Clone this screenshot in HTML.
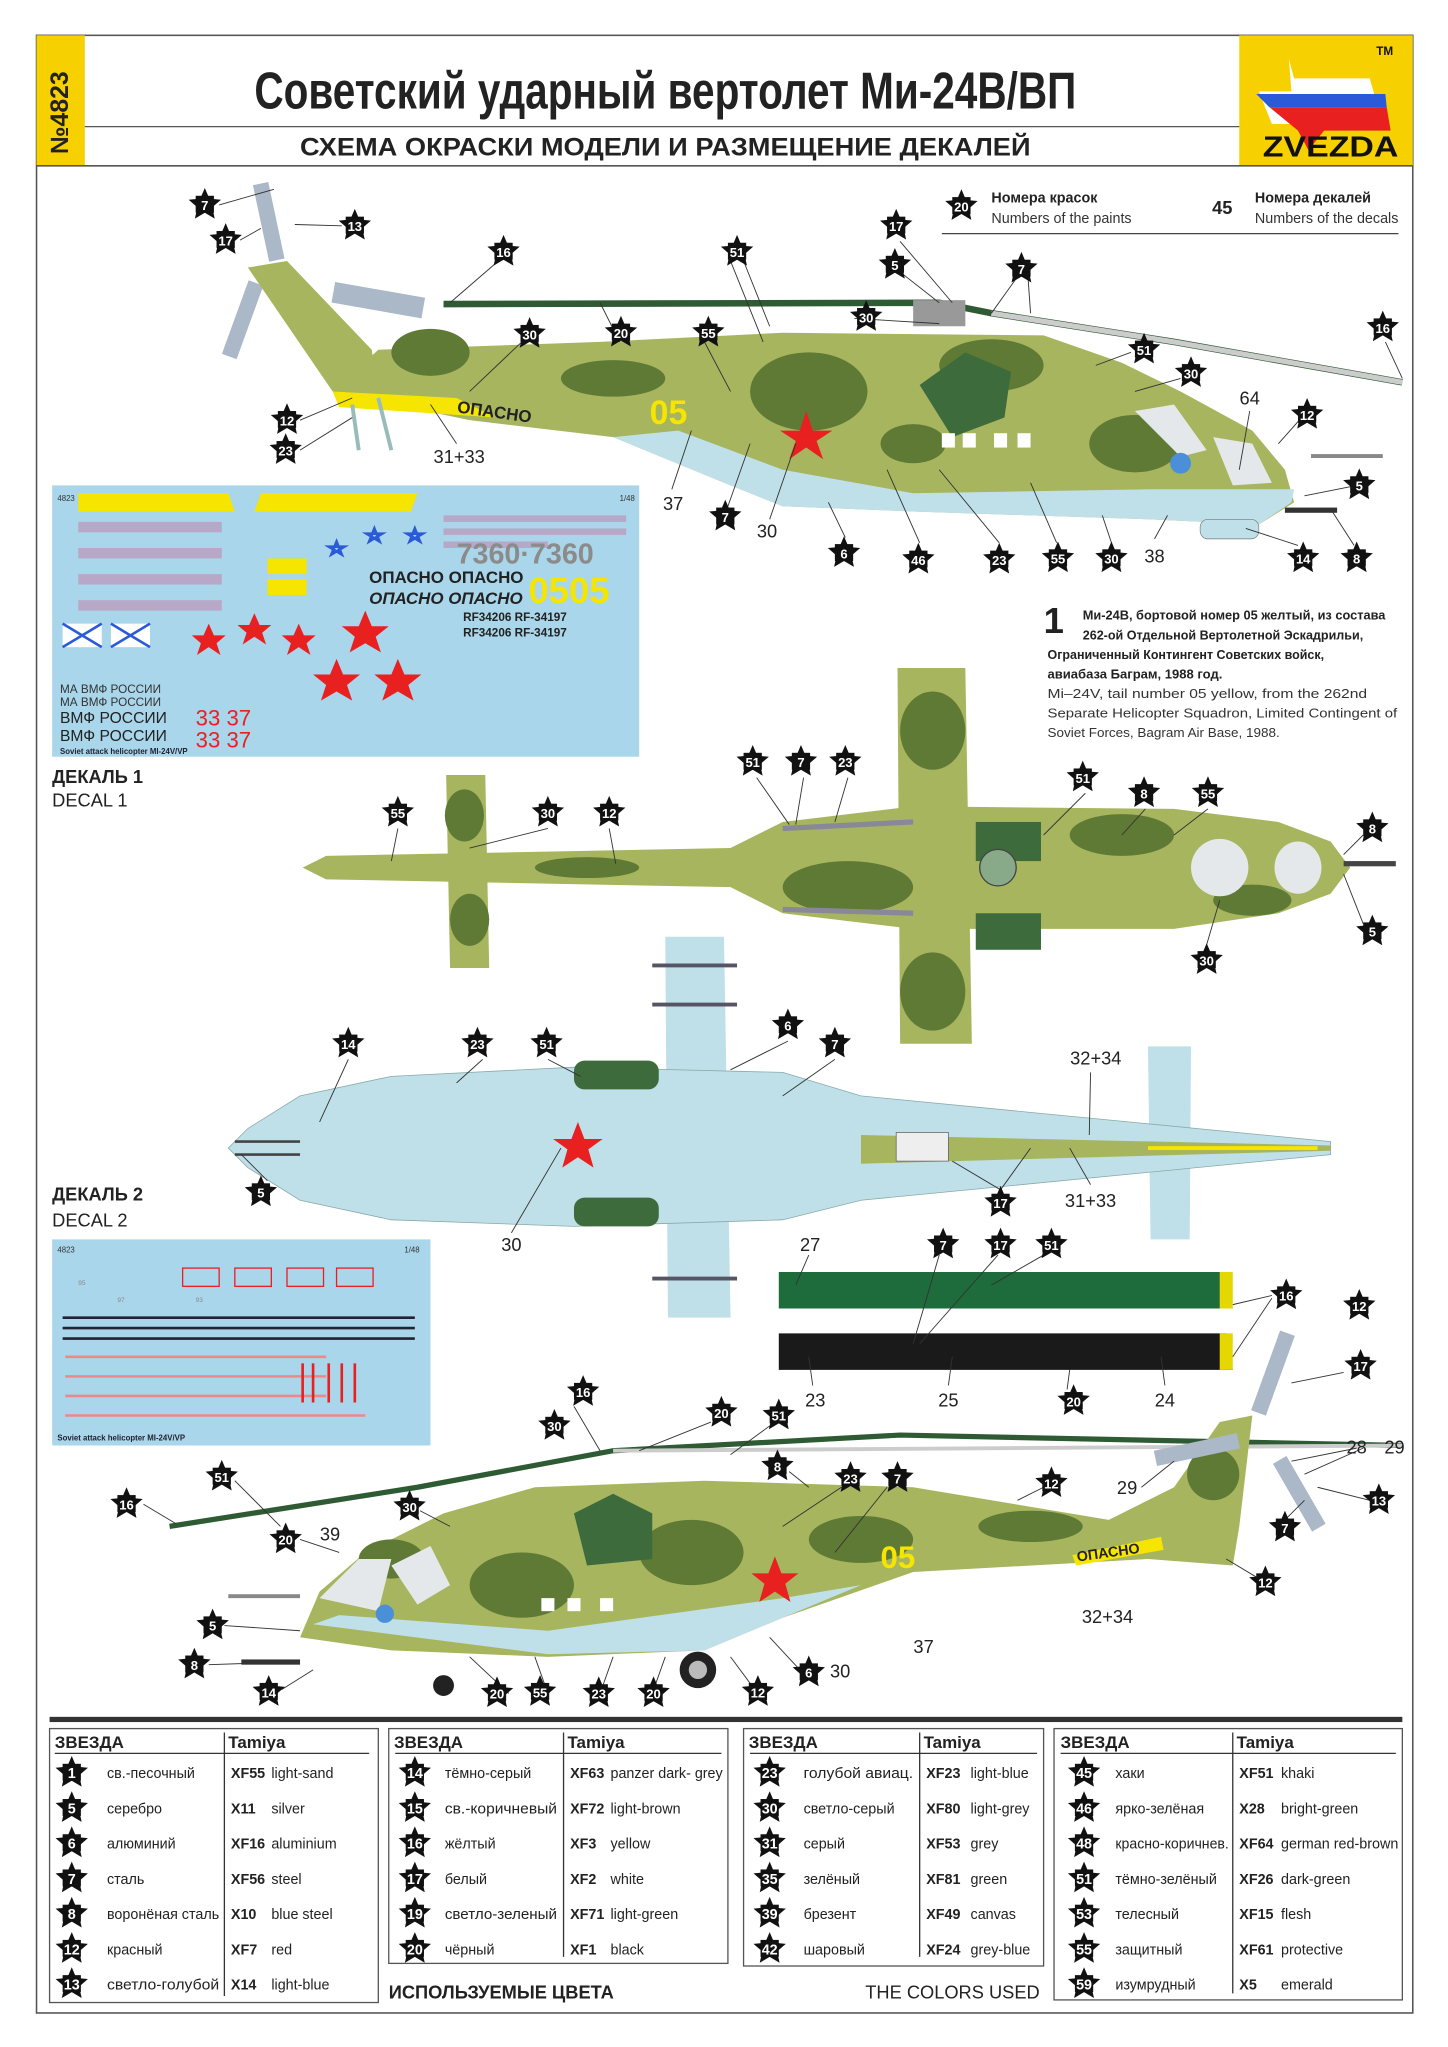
<!DOCTYPE html>
<html><head><meta charset="utf-8"><style>
html,body{margin:0;padding:0;background:#fff;}
svg{display:block;}
text{font-family:"Liberation Sans","Noto Sans CJK SC",sans-serif;}
.n{font-size:10px;fill:#fff;font-weight:bold;text-anchor:middle;}
.lbl{font-size:14px;fill:#222;text-anchor:middle;}
.tb text{font-size:11px;}
</style></head><body>
<svg width="1448" height="2047" viewBox="0 0 1110 1569" xmlns="http://www.w3.org/2000/svg">
<defs>
<g id="st"><polygon points="0,-13 3.5,-4.8 12.4,-4 5.7,1.8 7.6,10.5 0,6 -7.6,10.5 -5.7,1.8 -12.4,-4 -3.5,-4.8" fill="#111"/><rect x="-7" y="-7" width="14" height="13" fill="#111"/></g>
</defs>
<rect x="0" y="0" width="1110" height="1569" fill="#fff"/>
<rect x="28" y="27" width="1055" height="1516" fill="none" stroke="#555" stroke-width="1.2"/>
<rect x="28" y="27" width="37" height="100" fill="#f7d000"/>
<text transform="translate(52,118) rotate(-90)" font-size="19" font-weight="bold" fill="#222">№4823</text>
<rect x="950" y="27" width="133" height="100" fill="#f7d000"/>
<polygon points="988,45 992,60 1050,60 1060,95 1015,95 1005,110 998,95 975,95 965,70 990,70" fill="#fff"/>
<polygon points="963,72 1062,72 1063,82 973,82" fill="#2a5ad8"/>
<polygon points="973,82 1063,82 1066,100 1015,100 1003,115 995,100" fill="#e82020"/>
<text x="1020" y="120" font-size="22" text-anchor="middle" font-weight="bold" fill="#111" textLength="104" lengthAdjust="spacingAndGlyphs">ZVEZDA</text>
<text x="1055" y="42" font-size="9" font-weight="bold" fill="#111">TM</text>
<line x1="65" y1="97" x2="950" y2="97" stroke="#555" stroke-width="1"/>
<line x1="28" y1="127" x2="1083" y2="127" stroke="#555" stroke-width="1.2"/>
<text x="510" y="83" font-size="40" font-weight="bold" text-anchor="middle" fill="#222" textLength="630" lengthAdjust="spacingAndGlyphs">Советский ударный вертолет Ми-24В/ВП</text>
<text x="510" y="119" font-size="19" font-weight="bold" text-anchor="middle" fill="#222" textLength="560" lengthAdjust="spacingAndGlyphs">СХЕМА ОКРАСКИ МОДЕЛИ И РАЗМЕЩЕНИЕ ДЕКАЛЕЙ</text>
<use href="#st" x="737" y="158"/><text class="n" x="737" y="162">20</text>
<text x="760" y="155" font-size="11" font-weight="bold" fill="#222">Номера красок</text>
<text x="760" y="171" font-size="11" fill="#333">Numbers of the paints</text>
<text x="937" y="164" font-size="14" font-weight="bold" fill="#222" text-anchor="middle">45</text>
<text x="962" y="155" font-size="11" font-weight="bold" fill="#222">Номера декалей</text>
<text x="962" y="171" font-size="11" fill="#333" textLength="110" lengthAdjust="spacingAndGlyphs">Numbers of the decals</text>
<line x1="722" y1="179" x2="1072" y2="179" stroke="#444"/>

<!-- HELI 1 side -->
<g>
<path d="M340,233 L720,232 L760,240 L900,262 L1075,293" fill="none" stroke="#2e5b33" stroke-width="5"/>
<path d="M760,240 L900,262 L1075,293" fill="none" stroke="#ccc" stroke-width="4"/>
<rect x="700" y="230" width="40" height="20" fill="#999"/>
<rect x="200" y="140" width="12" height="60" fill="#aab8c8" transform="rotate(-12 206 170)"/>
<rect x="180" y="215" width="12" height="60" fill="#aab8c8" transform="rotate(20 186 245)"/>
<rect x="255" y="222" width="70" height="16" fill="#aab8c8" transform="rotate(10 290 230)"/>
<path d="M190,205 L220,200 L285,268 L290,305 L255,300 Z" fill="#a7b55f"/>
<path d="M255,300 L290,268 L460,262 L600,255 L800,257 L860,278 L905,300 L960,330 L985,360 L992,385 L965,402 L880,398 L700,392 L600,388 L560,372 L470,335 L360,322 Z" fill="#a7b55f"/>
<path d="M470,335 L560,372 L600,388 L700,392 L880,398 L965,402 L990,385 L992,375 L880,375 L700,378 L600,360 L520,330 Z" fill="#bfe0e8"/>
<ellipse cx="330" cy="270" rx="30" ry="18" fill="#5f7a35"/>
<ellipse cx="470" cy="290" rx="40" ry="14" fill="#5f7a35"/>
<ellipse cx="620" cy="300" rx="45" ry="30" fill="#5f7a35"/>
<ellipse cx="760" cy="280" rx="40" ry="20" fill="#5f7a35"/>
<ellipse cx="870" cy="340" rx="35" ry="22" fill="#5f7a35"/>
<ellipse cx="700" cy="340" rx="25" ry="15" fill="#5f7a35"/>
<path d="M705,295 L740,270 L775,285 L770,320 L730,335 Z" fill="#3e6b3c"/>
<path d="M870,315 L900,310 L925,345 L905,350 Z" fill="#e4e8ea"/>
<path d="M930,335 L960,340 L975,370 L945,372 Z" fill="#e4e8ea"/>
<path d="M255,300 L350,305 L380,320 L260,312 Z" fill="#f5e500"/>
<text x="350" y="316" font-size="13" font-weight="bold" fill="#222" transform="rotate(8 350 316)">ОПАСНО</text>
<text x="498" y="325" font-size="26" font-weight="bold" fill="#f5e500">05</text>
<polygon points="618,315 623,330 638,330 626,338 631,352 618,343 605,352 610,338 598,330 613,330" fill="#e82020"/>
<rect x="722" y="332" width="10" height="11" fill="#fff"/><rect x="738" y="332" width="10" height="11" fill="#fff"/><rect x="762" y="332" width="10" height="11" fill="#fff"/><rect x="780" y="332" width="10" height="11" fill="#fff"/>
<path d="M270,310 L275,345 M290,305 L300,345" stroke="#9bb" stroke-width="3"/>
<rect x="1005" y="348" width="55" height="3" fill="#888"/>
<rect x="920" y="398" width="45" height="15" rx="6" fill="#bfe0e8" stroke="#777" stroke-width=".5"/>
<rect x="985" y="389" width="40" height="4" fill="#333"/>
<circle cx="905" cy="355" r="8" fill="#4a8fd8"/>
</g>
<g stroke="#333" stroke-width="0.7" fill="none">
<path d="M168,157 L210,145 M184,184 L200,175 M262,173 L226,172 M382,200 L345,232 M560,200 L585,262 M570,200 L590,250 M690,185 L730,232 M692,210 L720,232 M780,212 L760,240 M788,212 L790,240 M475,262 L460,232 M400,262 L360,300 M540,262 L560,300 M655,244 L720,248 M867,270 L840,280 M905,290 L870,300 M1062,262 L1075,290 M996,322 L980,340 M230,322 L270,305 M230,345 L270,320 M350,340 L330,310 M515,375 L530,330 M558,388 L575,340 M590,398 L610,340 M648,412 L635,385 M705,416 L680,360 M766,416 L720,360 M810,416 L790,370 M852,416 L845,395 M885,413 L895,395 M1040,372 L1000,380 M995,418 L955,405 M1038,418 L1020,390 M958,315 L950,360"/>
</g>

<!-- decal sheet 1 -->
<rect x="40" y="372" width="450" height="208" fill="#a9d6ea"/>
<polygon points="60,378 175,378 180,392 60,392" fill="#f5e500"/>
<polygon points="200,378 320,378 315,392 195,392" fill="#f5e500"/>
<text x="44" y="384" font-size="6" fill="#333">4823</text><text x="475" y="384" font-size="6" fill="#333">1/48</text>
<g fill="#b8a8c8">
<rect x="60" y="400" width="110" height="8"/><rect x="60" y="420" width="110" height="8"/><rect x="60" y="440" width="110" height="8"/><rect x="60" y="460" width="110" height="8"/>
<rect x="340" y="395" width="140" height="5"/><rect x="340" y="405" width="140" height="5"/><rect x="340" y="415" width="80" height="5"/>
</g>
<text x="350" y="432" font-size="22" font-weight="bold" fill="#8b8b8b">7360·7360</text>
<text x="405" y="462" font-size="28" font-weight="bold" fill="#f5e500">0505</text>
<text x="283" y="447" font-size="13" font-weight="bold" fill="#222">ОПАСНО ОПАСНО</text>
<text x="283" y="463" font-size="13" font-style="italic" font-weight="bold" fill="#222">ОПАСНО ОПАСНО</text>
<text x="355" y="476" font-size="9" font-weight="bold" fill="#222">RF34206   RF-34197</text>
<text x="355" y="488" font-size="9" font-weight="bold" fill="#222">RF34206   RF-34197</text>
<rect x="205" y="428" width="30" height="12" fill="#f5e500"/><rect x="205" y="444" width="30" height="12" fill="#f5e500"/>
<g fill="#e82020">
<polygon points="160,478 164,487 173,487 166,493 169,502 160,496 151,502 154,493 147,487 156,487"/>
<polygon points="195,470 199,479 208,479 201,485 204,494 195,488 186,494 189,485 182,479 191,479"/>
<polygon points="229,478 233,487 242,487 235,493 238,502 229,496 220,502 223,493 216,487 225,487"/>
<polygon points="280,468 285,480 298,480 288,488 292,500 280,493 268,500 272,488 262,480 275,480"/>
<polygon points="258,505 263,517 276,517 266,525 270,537 258,530 246,537 250,525 240,517 253,517"/>
<polygon points="305,505 310,517 323,517 313,525 317,537 305,530 293,537 297,525 287,517 300,517"/>
</g>
<g fill="none" stroke="#2a5ad8" stroke-width="2"><path d="M258,415 l4,10 l-10,-6 h12 l-10,6z"/><path d="M287,405 l4,10 l-10,-6 h12 l-10,6z"/><path d="M318,405 l4,10 l-10,-6 h12 l-10,6z"/></g>
<rect x="48" y="478" width="30" height="18" fill="#fff"/><rect x="85" y="478" width="30" height="18" fill="#fff"/>
<path d="M48,478 L78,496 M78,478 L48,496 M85,478 L115,496 M115,478 L85,496" stroke="#2a5ad8" stroke-width="2"/>
<text x="46" y="531" font-size="9" fill="#333">МА ВМФ РОССИИ</text>
<text x="46" y="541" font-size="9" fill="#333">МА ВМФ РОССИИ</text>
<text x="46" y="554" font-size="12" fill="#222">ВМФ РОССИИ</text>
<text x="46" y="568" font-size="12" fill="#222">ВМФ РОССИИ</text>
<text x="150" y="556" font-size="17" fill="#e82020">33 37</text>
<text x="150" y="573" font-size="17" fill="#e82020">33 37</text>
<text x="46" y="578" font-size="6" font-weight="bold" fill="#223">Soviet attack helicopter MI-24V/VP</text>
<text x="40" y="600" font-size="14" font-weight="bold" fill="#222">ДЕКАЛЬ 1</text>
<text x="40" y="618" font-size="14" fill="#222">DECAL 1</text>

<!-- caption -->
<text x="800" y="485" font-size="28" font-weight="bold" fill="#222">1</text>
<text x="830" y="475" font-size="10" font-weight="bold" fill="#222" textLength="232" lengthAdjust="spacingAndGlyphs">Ми-24В, бортовой номер 05 желтый, из состава</text>
<text x="830" y="490" font-size="10" font-weight="bold" fill="#222" textLength="215" lengthAdjust="spacingAndGlyphs">262-ой Отдельной Вертолетной Эскадрильи,</text>
<text x="803" y="505" font-size="10" font-weight="bold" fill="#222" textLength="212" lengthAdjust="spacingAndGlyphs">Ограниченный Контингент Советских войск,</text>
<text x="803" y="520" font-size="10" font-weight="bold" fill="#222">авиабаза Баграм, 1988 год.</text>
<text x="803" y="535" font-size="10" fill="#333" textLength="245" lengthAdjust="spacingAndGlyphs">Mi–24V, tail number 05 yellow, from the 262nd</text>
<text x="803" y="550" font-size="10" fill="#333" textLength="268" lengthAdjust="spacingAndGlyphs">Separate Helicopter Squadron, Limited Contingent of</text>
<text x="803" y="565" font-size="10" fill="#333" textLength="178" lengthAdjust="spacingAndGlyphs">Soviet Forces, Bagram Air Base, 1988.</text>

<!-- top view -->
<g>
<path d="M688,512 L740,512 L745,800 L690,800 Z" fill="#a7b55f"/>
<path d="M342,594 L372,594 L375,742 L345,742 Z" fill="#a7b55f"/>
<path d="M232,665 L250,656 L560,650 L600,630 L700,618 L900,620 L980,630 L1020,645 L1035,665 L1020,685 L980,700 L900,712 L700,712 L600,700 L560,680 L250,674 Z" fill="#a7b55f"/>
<ellipse cx="356" cy="625" rx="15" ry="20" fill="#5f7a35"/><ellipse cx="360" cy="705" rx="15" ry="20" fill="#5f7a35"/>
<ellipse cx="450" cy="665" rx="40" ry="8" fill="#5f7a35"/>
<ellipse cx="715" cy="560" rx="25" ry="30" fill="#5f7a35"/><ellipse cx="715" cy="760" rx="25" ry="30" fill="#5f7a35"/>
<ellipse cx="650" cy="680" rx="50" ry="20" fill="#5f7a35"/>
<ellipse cx="860" cy="640" rx="40" ry="16" fill="#5f7a35"/>
<ellipse cx="960" cy="690" rx="30" ry="12" fill="#5f7a35"/>
<rect x="748" y="630" width="50" height="30" fill="#3e6b3c"/><rect x="748" y="700" width="50" height="28" fill="#3e6b3c"/>
<circle cx="765" cy="665" r="14" fill="#8a8" stroke="#444"/>
<ellipse cx="935" cy="665" rx="22" ry="22" fill="#e4e8ea"/><ellipse cx="995" cy="665" rx="18" ry="20" fill="#e4e8ea"/>
<rect x="1030" y="660" width="40" height="4" fill="#444"/>
<line x1="600" y1="635" x2="700" y2="630" stroke="#889" stroke-width="4"/><line x1="600" y1="697" x2="700" y2="700" stroke="#889" stroke-width="4"/>
</g>
<g stroke="#333" stroke-width=".7" fill="none"><path d="M580,596 L605,632 M616,596 L610,632 M650,596 L640,630 M832,608 L800,640 M878,620 L860,640 M926,620 L900,640 M1045,640 L1030,655 M1045,708 L1030,670 M925,724 L935,690 M305,635 L300,660 M420,635 L360,650 M467,635 L472,662"/></g>
<!-- bottom view -->
<g>
<path d="M510,718 L555,718 L560,1010 L512,1010 Z" fill="#bfe0e8"/>
<path d="M880,802 L913,802 L912,950 L882,950 Z" fill="#bfe0e8"/>
<path d="M175,880 L190,865 L230,840 L300,825 L440,818 L600,822 L660,840 L1020,875 L1020,885 L660,920 L600,935 L440,940 L300,935 L230,920 L190,895 Z" fill="#bfe0e8" stroke="#8aa" stroke-width=".6"/>
<rect x="440" y="813" width="65" height="22" rx="8" fill="#3e6b3c"/><rect x="440" y="918" width="65" height="22" rx="8" fill="#3e6b3c"/>
<path d="M660,870 L1020,878 L1020,882 L660,892 Z" fill="#a7b55f"/>
<path d="M880,880 L1010,880" stroke="#f5e500" stroke-width="3"/>
<polygon points="443,860 448,873 462,873 451,881 455,895 443,887 431,895 435,881 424,873 438,873" fill="#e82020"/>
<rect x="687" y="868" width="40" height="22" fill="#eee" stroke="#666" stroke-width=".6"/>
<path d="M180,875 L230,875 M180,885 L230,885" stroke="#444" stroke-width="2"/>
<g stroke="#556" stroke-width="3"><line x1="500" y1="740" x2="565" y2="740"/><line x1="500" y1="770" x2="565" y2="770"/><line x1="500" y1="980" x2="565" y2="980"/></g>
</g>
<g stroke="#333" stroke-width=".7" fill="none"><path d="M267,812 L245,860 M370,812 L350,830 M420,812 L445,825 M604,798 L560,820 M640,812 L600,840 M205,905 L185,885 M767,912 L730,890 M767,912 L790,880 M836,822 L835,870 M836,908 L820,880 M392,945 L430,880"/></g>
<text x="40" y="920" font-size="14" font-weight="bold" fill="#222">ДЕКАЛЬ 2</text>
<text x="40" y="940" font-size="14" fill="#222">DECAL 2</text>
<!-- decal sheet 2 -->
<rect x="40" y="950" width="290" height="158" fill="#a9d6ea"/>
<text x="44" y="960" font-size="6" fill="#333">4823</text><text x="310" y="960" font-size="6" fill="#333">1/48</text>
<g fill="none" stroke="#e82020" stroke-width="1"><rect x="140" y="972" width="28" height="14"/><rect x="180" y="972" width="28" height="14"/><rect x="220" y="972" width="28" height="14"/><rect x="258" y="972" width="28" height="14"/></g>
<g fill="#888" font-size="5"><text x="60" y="985">95</text><text x="90" y="998">97</text><text x="150" y="998">93</text></g>
<g stroke="#223" stroke-width="2"><path d="M48,1010 h270 M48,1018 h270 M48,1026 h270"/></g>
<g stroke="#e88" stroke-width="2"><path d="M50,1040 h200 M50,1055 h200 M50,1070 h200 M50,1085 h230"/></g>
<g stroke="#e82020" stroke-width="2"><path d="M232,1045 v30 M240,1045 v30 M252,1045 v30 M262,1045 v30 M272,1045 v30"/></g>
<text x="44" y="1104" font-size="6" font-weight="bold" fill="#223">Soviet attack helicopter MI-24V/VP</text>
<!-- blades -->
<path d="M597,975 L940,975 L945,1003 L597,1003 Z" fill="#1e6b3c"/>
<path d="M935,975 L945,975 L945,1003 L935,1003 Z" fill="#e5d800"/>
<path d="M597,1022 L940,1022 L945,1050 L597,1050 Z" fill="#1a1a1a"/>
<path d="M935,1022 L945,1022 L945,1050 L935,1050 Z" fill="#e5d800"/>
<g stroke="#333" stroke-width=".7" fill="none"><path d="M720,962 L700,1030 M765,962 L705,1030 M800,962 L760,985 M975,993 L945,1000 M975,995 L945,1040 M620,962 L610,985 M623,1062 L620,1040 M727,1062 L730,1040 M818,1065 L820,1050 M893,1062 L890,1040"/></g>

<!-- HELI 2 side -->
<g>
<path d="M130,1170 L320,1140 L470,1112 L690,1100 L1075,1108" fill="none" stroke="#2e5b33" stroke-width="4"/>
<path d="M470,1112 L1075,1108" stroke="#ccc" stroke-width="3"/>
<path d="M230,1255 L245,1220 L280,1190 L340,1160 L410,1140 L540,1135 L700,1140 L850,1165 L900,1140 L935,1090 L960,1085 L950,1170 L945,1200 L880,1195 L700,1205 L600,1240 L540,1265 L420,1270 L300,1265 Z" fill="#a7b55f"/>
<path d="M240,1245 L420,1268 L540,1265 L600,1240 L660,1215 L600,1225 L420,1250 L260,1238 Z" fill="#bfe0e8"/>
<ellipse cx="300" cy="1195" rx="25" ry="15" fill="#5f7a35"/><ellipse cx="400" cy="1215" rx="40" ry="25" fill="#5f7a35"/>
<ellipse cx="530" cy="1190" rx="40" ry="25" fill="#5f7a35"/><ellipse cx="660" cy="1180" rx="40" ry="18" fill="#5f7a35"/>
<ellipse cx="790" cy="1170" rx="40" ry="12" fill="#5f7a35"/><ellipse cx="930" cy="1130" rx="20" ry="20" fill="#5f7a35"/>
<path d="M440,1160 L470,1145 L500,1160 L500,1195 L450,1200 Z" fill="#3e6b3c"/>
<path d="M245,1225 L275,1195 L300,1195 L290,1235 Z" fill="#e4e8ea"/>
<path d="M300,1200 L330,1185 L345,1215 L320,1230 Z" fill="#e4e8ea"/>
<text x="675" y="1202" font-size="24" font-weight="bold" fill="#f5e500">05</text>
<polygon points="594,1193 599,1206 612,1206 602,1214 606,1228 594,1220 582,1228 586,1214 576,1206 589,1206" fill="#e82020"/>
<path d="M822,1192 L890,1178 L892,1188 L825,1200 Z" fill="#f5e500"/>
<text x="826" y="1197" font-size="11" font-weight="bold" fill="#222" transform="rotate(-8 826 1197)">ОПАСНО</text>
<rect x="175" y="1222" width="55" height="3" fill="#888"/>
<rect x="185" y="1272" width="45" height="4" fill="#333"/>
<circle cx="535" cy="1280" r="14" fill="#222"/><circle cx="535" cy="1280" r="7" fill="#bbb"/>
<circle cx="340" cy="1292" r="8" fill="#222"/>
<rect x="970" y="1020" width="12" height="65" fill="#aab8c8" transform="rotate(20 976 1052)"/>
<rect x="885" y="1105" width="65" height="12" fill="#aab8c8" transform="rotate(-12 918 1111)"/>
<rect x="990" y="1115" width="12" height="60" fill="#aab8c8" transform="rotate(-30 996 1145)"/>
<rect x="415" y="1225" width="10" height="10" fill="#fff"/><rect x="435" y="1225" width="10" height="10" fill="#fff"/><rect x="460" y="1225" width="10" height="10" fill="#fff"/>
<circle cx="295" cy="1237" r="7" fill="#4a8fd8"/>
</g>
<g stroke="#333" stroke-width=".7" fill="none"><path d="M110,1153 L135,1168 M180,1135 L215,1170 M230,1180 L260,1190 M322,1158 L345,1170 M440,1078 L460,1112 M545,1090 L490,1112 M590,1093 L560,1115 M605,1128 L620,1140 M645,1140 L600,1170 M680,1140 L640,1190 M800,1140 L780,1150 M1030,1052 L990,1060 M1040,1110 L990,1120 M1045,1110 L1000,1130 M875,1140 L900,1120 M1050,1150 L1010,1140 M980,1170 L1000,1150 M965,1210 L940,1195 M172,1246 L230,1250 M160,1276 L190,1275 M216,1295 L240,1280 M390,1298 L360,1270 M420,1298 L410,1270 M460,1298 L470,1270 M500,1298 L510,1270 M580,1297 L560,1270 M615,1282 L590,1255"/></g>

<!-- star callouts -->
<g>
<use href="#st" x="157" y="157"/><text class="n" x="157" y="161">7</text>
<use href="#st" x="173" y="184"/><text class="n" x="173" y="188">17</text>
<use href="#st" x="272" y="173"/><text class="n" x="272" y="177">13</text>
<use href="#st" x="386" y="193"/><text class="n" x="386" y="197">16</text>
<use href="#st" x="565" y="193"/><text class="n" x="565" y="197">51</text>
<use href="#st" x="687" y="173"/><text class="n" x="687" y="177">17</text>
<use href="#st" x="686" y="203"/><text class="n" x="686" y="207">5</text>
<use href="#st" x="783" y="206"/><text class="n" x="783" y="210">7</text>
<use href="#st" x="476" y="255"/><text class="n" x="476" y="259">20</text>
<use href="#st" x="406" y="256"/><text class="n" x="406" y="260">30</text>
<use href="#st" x="543" y="255"/><text class="n" x="543" y="259">55</text>
<use href="#st" x="664" y="243"/><text class="n" x="664" y="247">30</text>
<use href="#st" x="877" y="268"/><text class="n" x="877" y="272">51</text>
<use href="#st" x="913" y="286"/><text class="n" x="913" y="290">30</text>
<use href="#st" x="1060" y="251"/><text class="n" x="1060" y="255">16</text>
<use href="#st" x="1002" y="318"/><text class="n" x="1002" y="322">12</text>
<use href="#st" x="220" y="322"/><text class="n" x="220" y="326">12</text>
<use href="#st" x="219" y="345"/><text class="n" x="219" y="349">23</text>
<use href="#st" x="556" y="396"/><text class="n" x="556" y="400">7</text>
<use href="#st" x="647" y="424"/><text class="n" x="647" y="428">6</text>
<use href="#st" x="704" y="429"/><text class="n" x="704" y="433">46</text>
<use href="#st" x="766" y="429"/><text class="n" x="766" y="433">23</text>
<use href="#st" x="811" y="428"/><text class="n" x="811" y="432">55</text>
<use href="#st" x="852" y="428"/><text class="n" x="852" y="432">30</text>
<use href="#st" x="1042" y="372"/><text class="n" x="1042" y="376">5</text>
<use href="#st" x="999" y="428"/><text class="n" x="999" y="432">14</text>
<use href="#st" x="1040" y="428"/><text class="n" x="1040" y="432">8</text>
<use href="#st" x="577" y="584"/><text class="n" x="577" y="588">51</text>
<use href="#st" x="614" y="584"/><text class="n" x="614" y="588">7</text>
<use href="#st" x="648" y="584"/><text class="n" x="648" y="588">23</text>
<use href="#st" x="830" y="596"/><text class="n" x="830" y="600">51</text>
<use href="#st" x="877" y="608"/><text class="n" x="877" y="612">8</text>
<use href="#st" x="926" y="608"/><text class="n" x="926" y="612">55</text>
<use href="#st" x="1052" y="635"/><text class="n" x="1052" y="639">8</text>
<use href="#st" x="1052" y="714"/><text class="n" x="1052" y="718">5</text>
<use href="#st" x="925" y="736"/><text class="n" x="925" y="740">30</text>
<use href="#st" x="305" y="623"/><text class="n" x="305" y="627">55</text>
<use href="#st" x="420" y="623"/><text class="n" x="420" y="627">30</text>
<use href="#st" x="467" y="623"/><text class="n" x="467" y="627">12</text>
<use href="#st" x="267" y="800"/><text class="n" x="267" y="804">14</text>
<use href="#st" x="366" y="800"/><text class="n" x="366" y="804">23</text>
<use href="#st" x="419" y="800"/><text class="n" x="419" y="804">51</text>
<use href="#st" x="604" y="786"/><text class="n" x="604" y="790">6</text>
<use href="#st" x="640" y="800"/><text class="n" x="640" y="804">7</text>
<use href="#st" x="200" y="914"/><text class="n" x="200" y="918">5</text>
<use href="#st" x="767" y="922"/><text class="n" x="767" y="926">17</text>
<use href="#st" x="723" y="954"/><text class="n" x="723" y="958">7</text>
<use href="#st" x="767" y="954"/><text class="n" x="767" y="958">17</text>
<use href="#st" x="806" y="954"/><text class="n" x="806" y="958">51</text>
<use href="#st" x="986" y="993"/><text class="n" x="986" y="997">16</text>
<use href="#st" x="1042" y="1001"/><text class="n" x="1042" y="1005">12</text>
<use href="#st" x="1043" y="1047"/><text class="n" x="1043" y="1051">17</text>
<use href="#st" x="823" y="1074"/><text class="n" x="823" y="1078">20</text>
<use href="#st" x="447" y="1067"/><text class="n" x="447" y="1071">16</text>
<use href="#st" x="425" y="1093"/><text class="n" x="425" y="1097">30</text>
<use href="#st" x="553" y="1083"/><text class="n" x="553" y="1087">20</text>
<use href="#st" x="597" y="1085"/><text class="n" x="597" y="1089">51</text>
<use href="#st" x="596" y="1124"/><text class="n" x="596" y="1128">8</text>
<use href="#st" x="652" y="1133"/><text class="n" x="652" y="1137">23</text>
<use href="#st" x="688" y="1133"/><text class="n" x="688" y="1137">7</text>
<use href="#st" x="806" y="1137"/><text class="n" x="806" y="1141">12</text>
<use href="#st" x="170" y="1132"/><text class="n" x="170" y="1136">51</text>
<use href="#st" x="97" y="1153"/><text class="n" x="97" y="1157">16</text>
<use href="#st" x="219" y="1180"/><text class="n" x="219" y="1184">20</text>
<use href="#st" x="314" y="1155"/><text class="n" x="314" y="1159">30</text>
<use href="#st" x="1057" y="1150"/><text class="n" x="1057" y="1154">13</text>
<use href="#st" x="985" y="1171"/><text class="n" x="985" y="1175">7</text>
<use href="#st" x="970" y="1213"/><text class="n" x="970" y="1217">12</text>
<use href="#st" x="163" y="1246"/><text class="n" x="163" y="1250">5</text>
<use href="#st" x="149" y="1276"/><text class="n" x="149" y="1280">8</text>
<use href="#st" x="206" y="1297"/><text class="n" x="206" y="1301">14</text>
<use href="#st" x="381" y="1298"/><text class="n" x="381" y="1302">20</text>
<use href="#st" x="414" y="1297"/><text class="n" x="414" y="1301">55</text>
<use href="#st" x="459" y="1298"/><text class="n" x="459" y="1302">23</text>
<use href="#st" x="501" y="1298"/><text class="n" x="501" y="1302">20</text>
<use href="#st" x="581" y="1297"/><text class="n" x="581" y="1301">12</text>
<use href="#st" x="620" y="1282"/><text class="n" x="620" y="1286">6</text>
</g>
<g>
<text class="lbl" x="352" y="355">31+33</text><text class="lbl" x="516" y="391">37</text><text class="lbl" x="588" y="412">30</text>
<text class="lbl" x="885" y="431">38</text><text class="lbl" x="958" y="310">64</text>
<text class="lbl" x="840" y="816">32+34</text><text class="lbl" x="836" y="925">31+33</text><text class="lbl" x="392" y="959">30</text>
<text class="lbl" x="621" y="959">27</text><text class="lbl" x="625" y="1078">23</text><text class="lbl" x="727" y="1078">25</text><text class="lbl" x="893" y="1078">24</text>
<text class="lbl" x="253" y="1181">39</text><text class="lbl" x="1040" y="1114">28</text><text class="lbl" x="1069" y="1114">29</text><text class="lbl" x="864" y="1145">29</text>
<text class="lbl" x="849" y="1244">32+34</text><text class="lbl" x="708" y="1267">37</text><text class="lbl" x="644" y="1286">30</text>
</g>

<!-- bottom tables -->
<rect x="38" y="1316" width="1037" height="4" fill="#333"/>
<g fill="none" stroke="#555" stroke-width="1">
<rect x="38" y="1325" width="252" height="210"/>
<rect x="298" y="1325" width="260" height="180"/>
<rect x="570" y="1325" width="230" height="182"/>
<rect x="808" y="1325" width="267" height="208"/>
</g>
<g stroke="#333" stroke-width="1">
<path d="M42,1344 H283 M303,1344 H553 M575,1344 H795 M813,1344 H1070"/>
<path d="M172,1328 V1530 M432,1328 V1500 M705,1328 V1500 M945,1328 V1528"/>
</g>
<g font-size="13" font-weight="bold" fill="#222">
<text x="42" y="1340">ЗВЕЗДА</text><text x="175" y="1340">Tamiya</text>
<text x="302" y="1340">ЗВЕЗДА</text><text x="435" y="1340">Tamiya</text>
<text x="574" y="1340">ЗВЕЗДА</text><text x="708" y="1340">Tamiya</text>
<text x="813" y="1340">ЗВЕЗДА</text><text x="948" y="1340">Tamiya</text>
</g>
<g class="tb" fill="#222">
<use href="#st" x="55" y="1359"/><text class="n" x="55" y="1363">1</text><text x="82" y="1363">св.-песочный</text><text x="177" y="1363" font-weight="bold">XF55</text><text x="208" y="1363">light-sand</text>
<use href="#st" x="55" y="1386"/><text class="n" x="55" y="1390">5</text><text x="82" y="1390">серебро</text><text x="177" y="1390" font-weight="bold">X11</text><text x="208" y="1390">silver</text>
<use href="#st" x="55" y="1413"/><text class="n" x="55" y="1417">6</text><text x="82" y="1417">алюминий</text><text x="177" y="1417" font-weight="bold">XF16</text><text x="208" y="1417">aluminium</text>
<use href="#st" x="55" y="1440"/><text class="n" x="55" y="1444">7</text><text x="82" y="1444">сталь</text><text x="177" y="1444" font-weight="bold">XF56</text><text x="208" y="1444">steel</text>
<use href="#st" x="55" y="1467"/><text class="n" x="55" y="1471">8</text><text x="82" y="1471" textLength="86" lengthAdjust="spacingAndGlyphs">воронёная сталь</text><text x="177" y="1471" font-weight="bold">X10</text><text x="208" y="1471">blue steel</text>
<use href="#st" x="55" y="1494"/><text class="n" x="55" y="1498">12</text><text x="82" y="1498">красный</text><text x="177" y="1498" font-weight="bold">XF7</text><text x="208" y="1498">red</text>
<use href="#st" x="55" y="1521"/><text class="n" x="55" y="1525">13</text><text x="82" y="1525" textLength="86" lengthAdjust="spacingAndGlyphs">светло-голубой</text><text x="177" y="1525" font-weight="bold">X14</text><text x="208" y="1525">light-blue</text>
<use href="#st" x="318" y="1359"/><text class="n" x="318" y="1363">14</text><text x="341" y="1363">тёмно-серый</text><text x="437" y="1363" font-weight="bold">XF63</text><text x="468" y="1363" textLength="86" lengthAdjust="spacingAndGlyphs">panzer dark- grey</text>
<use href="#st" x="318" y="1386"/><text class="n" x="318" y="1390">15</text><text x="341" y="1390" textLength="86" lengthAdjust="spacingAndGlyphs">св.-коричневый</text><text x="437" y="1390" font-weight="bold">XF72</text><text x="468" y="1390">light-brown</text>
<use href="#st" x="318" y="1413"/><text class="n" x="318" y="1417">16</text><text x="341" y="1417">жёлтый</text><text x="437" y="1417" font-weight="bold">XF3</text><text x="468" y="1417">yellow</text>
<use href="#st" x="318" y="1440"/><text class="n" x="318" y="1444">17</text><text x="341" y="1444">белый</text><text x="437" y="1444" font-weight="bold">XF2</text><text x="468" y="1444">white</text>
<use href="#st" x="318" y="1467"/><text class="n" x="318" y="1471">19</text><text x="341" y="1471" textLength="86" lengthAdjust="spacingAndGlyphs">светло-зеленый</text><text x="437" y="1471" font-weight="bold">XF71</text><text x="468" y="1471">light-green</text>
<use href="#st" x="318" y="1494"/><text class="n" x="318" y="1498">20</text><text x="341" y="1498">чёрный</text><text x="437" y="1498" font-weight="bold">XF1</text><text x="468" y="1498">black</text>
<use href="#st" x="590" y="1359"/><text class="n" x="590" y="1363">23</text><text x="616" y="1363" textLength="84" lengthAdjust="spacingAndGlyphs">голубой авиац.</text><text x="710" y="1363" font-weight="bold">XF23</text><text x="744" y="1363">light-blue</text>
<use href="#st" x="590" y="1386"/><text class="n" x="590" y="1390">30</text><text x="616" y="1390">светло-серый</text><text x="710" y="1390" font-weight="bold">XF80</text><text x="744" y="1390">light-grey</text>
<use href="#st" x="590" y="1413"/><text class="n" x="590" y="1417">31</text><text x="616" y="1417">серый</text><text x="710" y="1417" font-weight="bold">XF53</text><text x="744" y="1417">grey</text>
<use href="#st" x="590" y="1440"/><text class="n" x="590" y="1444">35</text><text x="616" y="1444">зелёный</text><text x="710" y="1444" font-weight="bold">XF81</text><text x="744" y="1444">green</text>
<use href="#st" x="590" y="1467"/><text class="n" x="590" y="1471">39</text><text x="616" y="1471">брезент</text><text x="710" y="1471" font-weight="bold">XF49</text><text x="744" y="1471">canvas</text>
<use href="#st" x="590" y="1494"/><text class="n" x="590" y="1498">42</text><text x="616" y="1498">шаровый</text><text x="710" y="1498" font-weight="bold">XF24</text><text x="744" y="1498">grey-blue</text>
<use href="#st" x="831" y="1359"/><text class="n" x="831" y="1363">45</text><text x="855" y="1363">хаки</text><text x="950" y="1363" font-weight="bold">XF51</text><text x="982" y="1363">khaki</text>
<use href="#st" x="831" y="1386"/><text class="n" x="831" y="1390">46</text><text x="855" y="1390">ярко-зелёная</text><text x="950" y="1390" font-weight="bold">X28</text><text x="982" y="1390">bright-green</text>
<use href="#st" x="831" y="1413"/><text class="n" x="831" y="1417">48</text><text x="855" y="1417" textLength="87" lengthAdjust="spacingAndGlyphs">красно-коричнев.</text><text x="950" y="1417" font-weight="bold">XF64</text><text x="982" y="1417" textLength="90" lengthAdjust="spacingAndGlyphs">german red-brown</text>
<use href="#st" x="831" y="1440"/><text class="n" x="831" y="1444">51</text><text x="855" y="1444">тёмно-зелёный</text><text x="950" y="1444" font-weight="bold">XF26</text><text x="982" y="1444">dark-green</text>
<use href="#st" x="831" y="1467"/><text class="n" x="831" y="1471">53</text><text x="855" y="1471">телесный</text><text x="950" y="1471" font-weight="bold">XF15</text><text x="982" y="1471">flesh</text>
<use href="#st" x="831" y="1494"/><text class="n" x="831" y="1498">55</text><text x="855" y="1498">защитный</text><text x="950" y="1498" font-weight="bold">XF61</text><text x="982" y="1498">protective</text>
<use href="#st" x="831" y="1521"/><text class="n" x="831" y="1525">59</text><text x="855" y="1525">изумрудный</text><text x="950" y="1525" font-weight="bold">X5</text><text x="982" y="1525">emerald</text>
</g>
<text x="298" y="1532" font-size="14" font-weight="bold" fill="#222">ИСПОЛЬЗУЕМЫЕ ЦВЕТА</text>
<text x="797" y="1532" font-size="14" fill="#222" text-anchor="end">THE COLORS USED</text>
</svg>
</body></html>
